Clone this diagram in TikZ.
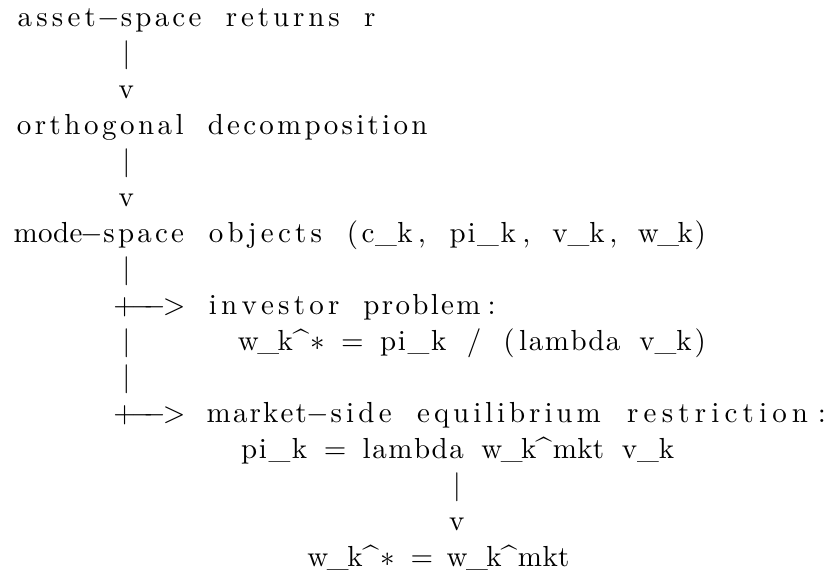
\documentclass[tikz,border=0pt]{standalone}
\newdimen\cw
\cw=6.567pt
\newcommand\Lus{\textunderscore}
\newcommand\Lhat{\textasciicircum}
\newcommand\Lmin{$-$}
\newcommand\Lgt{$>$}
\newcommand\Last{$\ast$}
\newcommand\sk[1]{\hskip#1\cw\relax}
\newcommand\Larr{\hbox to 4\cw{\kern-1.62pt\rlap{+}\kern6.87pt\rlap{\Lmin}\kern4.64pt\rlap{\Lmin}\kern7.18pt\rlap{\Lgt}\hss}}
\ExplSyntaxOn
\NewDocumentCommand\tk{mm}{\hbox_to_wd:nn {#1\cw}{\hss \tl_map_inline:nn {#2} {##1 \hss}}}
\ExplSyntaxOff
\tikzset{
  lst/.style={anchor=base west, inner sep=0pt, outer sep=0pt,
    font=\fontsize{10.95}{13.6}\selectfont}
}
\begin{document}
\begin{tikzpicture}[x=0.3776pt,y=-0.3776pt]
\useasboundingbox (0,0) rectangle (826,574);
\def\X{13.3}
\node[lst] (l0)  at (\X,26.5)  {\tk5{asset}\tk1{\Lmin}\tk5{space}\sk1\tk7{returns}\sk1\tk1{r}};
\node[lst] (l1)  at (\X,62.5)  {\sk6\tk1{|}};
\node[lst] (l2)  at (\X,98.5)  {\sk6\tk1{v}};
\node[lst] (l3)  at (\X,134.5) {\tk{10}{orthogonal}\sk1\tk{13}{decomposition}};
\node[lst] (l4)  at (\X,170.5) {\sk6\tk1{|}};
\node[lst] (l5)  at (\X,206.5) {\sk6\tk1{v}};
\node[lst] (l6)  at (\X,242.5) {\tk4{mode}\tk1{\Lmin}\tk5{space}\sk1\tk7{objects}\sk1\tk1{(}\tk3{c\Lus k}\tk1{,}\sk1\tk4{pi\Lus k}\tk1{,}\sk1\tk3{v\Lus k}\tk1{,}\sk1\tk3{w\Lus k}\tk1{)}};
\node[lst] (l7)  at (\X,278.5) {\sk6\tk1{|}};
\node[lst] (l8)  at (\X,314.5) {\sk6\Larr\sk1\tk8{investor}\sk1\tk7{problem}\tk1{:}};
\node[lst] (l9)  at (\X,350.5) {\sk6\tk1{|}\sk6\tk3{w\Lus k}\tk2{\Lhat\Last}\sk1\tk1{=}\sk1\tk4{pi\Lus k}\sk1\tk1{/}\sk1\tk1{(}\tk6{lambda}\sk1\tk3{v\Lus k}\tk1{)}};
\node[lst] (l10) at (\X,386.5) {\sk6\tk1{|}};
\node[lst] (l11) at (\X,422.5) {\sk6\Larr\sk1\tk6{market}\tk1{\Lmin}\tk4{side}\sk1\tk{11}{equilibrium}\sk1\tk{11}{restriction}\tk1{:}};
\node[lst] (l12) at (\X,458.5) {\sk{13}\tk4{pi\Lus k}\sk1\tk1{=}\sk1\tk6{lambda}\sk1\tk3{w\Lus k}\tk1{\Lhat}\tk3{mkt}\sk1\tk3{v\Lus k}};
\node[lst] (l13) at (\X,494.5) {\sk{25}\tk1{|}};
\node[lst] (l14) at (\X,530.5) {\sk{25}\tk1{v}};
\node[lst] (l15) at (\X,566.5) {\sk{17}\tk3{w\Lus k}\tk2{\Lhat\Last}\sk1\tk1{=}\sk1\tk3{w\Lus k}\tk1{\Lhat}\tk3{mkt}};
\end{tikzpicture}
\end{document}
